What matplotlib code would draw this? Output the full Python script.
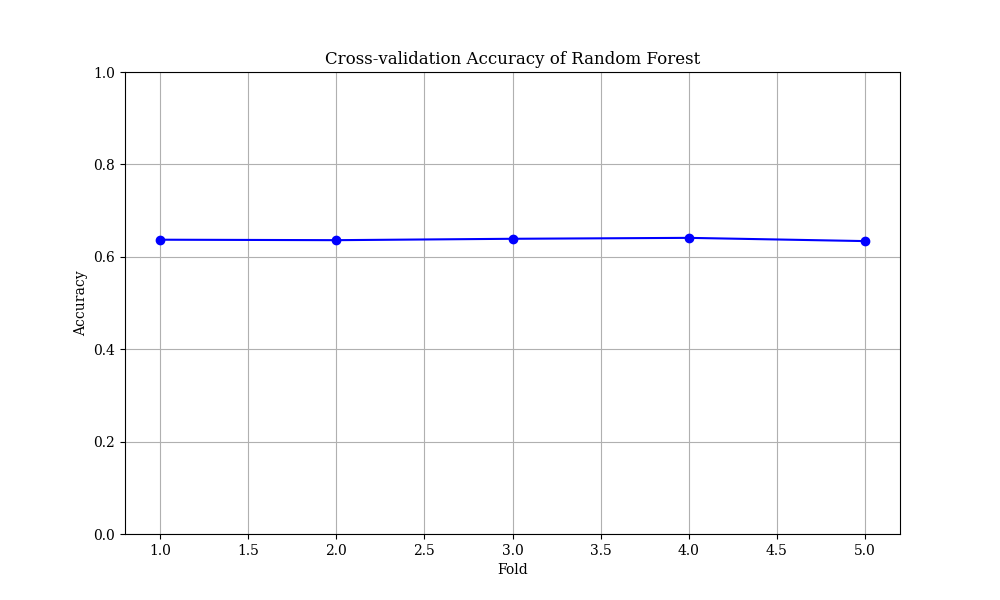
import matplotlib
matplotlib.use("Agg")
from matplotlib import pyplot as plt

plt.rcParams['font.family'] = ['DejaVu Serif']

folds = [1, 2, 3, 4, 5]
accuracy = [0.637, 0.636, 0.639, 0.641, 0.634]

fig = plt.figure(figsize=(10, 6), dpi=100)
plt.plot(folds, accuracy, marker='o', color='blue')
plt.title('Cross-validation Accuracy of Random Forest')
plt.xlabel('Fold')
plt.ylabel('Accuracy')
plt.ylim(0, 1)
plt.grid(True)
plt.savefig('out.png')
